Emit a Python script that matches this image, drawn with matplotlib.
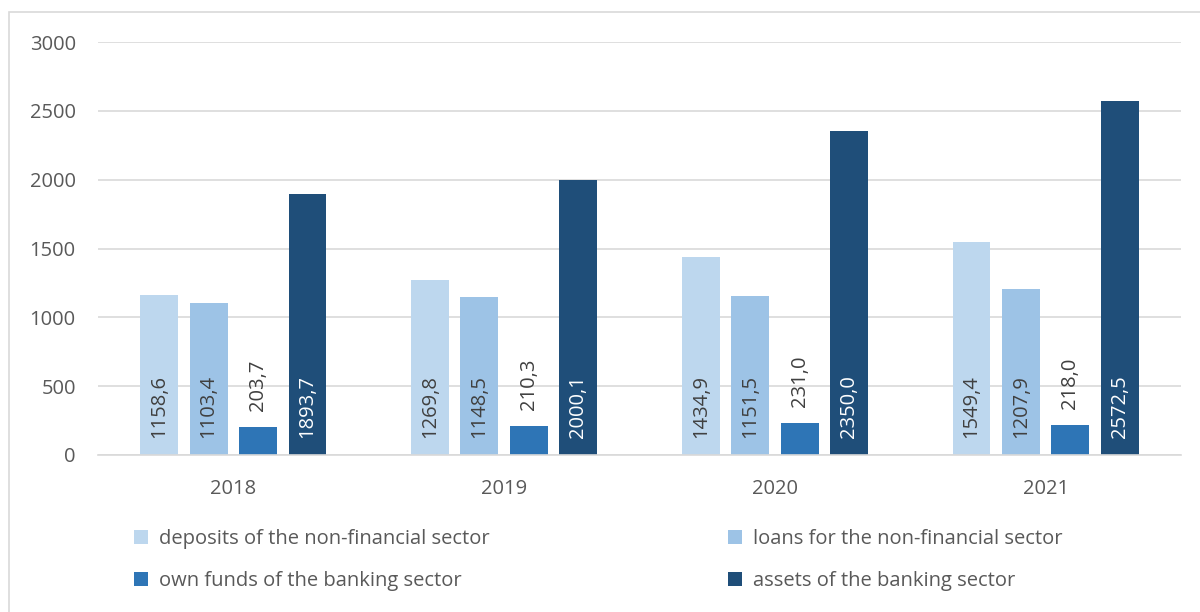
import numpy as np
import matplotlib.pyplot as plt
from matplotlib.patches import Rectangle

plt.rcParams['font.family'] = ['Open Sans', 'DejaVu Sans']

years = ['2018', '2019', '2020', '2021']
series_names = [
    'deposits of the non-financial sector',
    'loans for the non-financial sector',
    'own funds of the banking sector',
    'assets of the banking sector',
]
deposits = [1158.6, 1269.8, 1434.9, 1549.4]
loans = [1103.4, 1148.5, 1151.5, 1207.9]
own_funds = [203.7, 210.3, 231.0, 218.0]
assets = [1893.7, 2000.1, 2350.0, 2572.5]

colors = ['#BDD7EE', '#9DC3E6', '#2E75B6', '#1F4E79']
label_colors = ['#404040', '#404040', '#404040', '#FFFFFF']
fs = 14.5

fig = plt.figure(figsize=(12, 6.12), dpi=100)
ax = fig.add_axes([98 / 1200, 1 - 455 / 612, 1083 / 1200, 413 / 612])

# thin frame around the chart area
fig.patches.append(Rectangle((9 / 1200, -0.1), 1.2, 1.1 - 12 / 612, transform=fig.transFigure,
                             fill=False, edgecolor='#D9D9D9', linewidth=1.2))

x = np.arange(len(years))
width = 0.14
step = 0.1825
all_series = [deposits, loans, own_funds, assets]

bars = []
for i, (vals, name, col) in enumerate(zip(all_series, series_names, colors)):
    pos = x + (i - 1.5) * step
    bars.append(ax.bar(pos, vals, width, color=col, label=name, zorder=2))
    for p, v in zip(pos, vals):
        txt = f'{v:.1f}'.replace('.', ',')
        if v > 500:
            # label inside the bar, near its base
            ax.annotate(txt, (p, 0), xytext=(0, 12.5), textcoords='offset points',
                        rotation=90, ha='center', va='bottom', fontsize=fs,
                        color=label_colors[i], zorder=3)
        else:
            ax.annotate(txt, (p, v), xytext=(0, 11.5), textcoords='offset points',
                        rotation=90, ha='center', va='bottom', fontsize=fs,
                        color='#404040', zorder=3)

ax.set_xlim(-0.5, 3.5)
ax.set_ylim(0, 3000)
ax.set_yticks(range(0, 3001, 500))
ax.set_xticks(x)
ax.set_xticklabels(years)
ax.yaxis.grid(True, color='#D9D9D9', linewidth=1.2, zorder=0)
ax.set_axisbelow(True)
for s in ['top', 'right', 'left']:
    ax.spines[s].set_visible(False)
ax.spines['bottom'].set_color('#D9D9D9')
ax.spines['bottom'].set_linewidth(1.2)
ax.tick_params(axis='both', length=0, labelsize=fs, labelcolor='#595959')
ax.tick_params(axis='y', pad=16)
ax.tick_params(axis='x', pad=17)

# legend filled row by row
order = [0, 2, 1, 3]
leg = fig.legend([bars[k] for k in order], [series_names[k] for k in order],
                 loc='upper left', bbox_to_anchor=(116 / 1200, 1 - 511 / 612), ncol=2,
                 frameon=False, fontsize=fs, handlelength=0.7, handleheight=0.7,
                 handletextpad=0.55, columnspacing=11.8, labelspacing=1.1)
for t in leg.get_texts():
    t.set_color('#595959')

fig.savefig('out.png', dpi=100)
